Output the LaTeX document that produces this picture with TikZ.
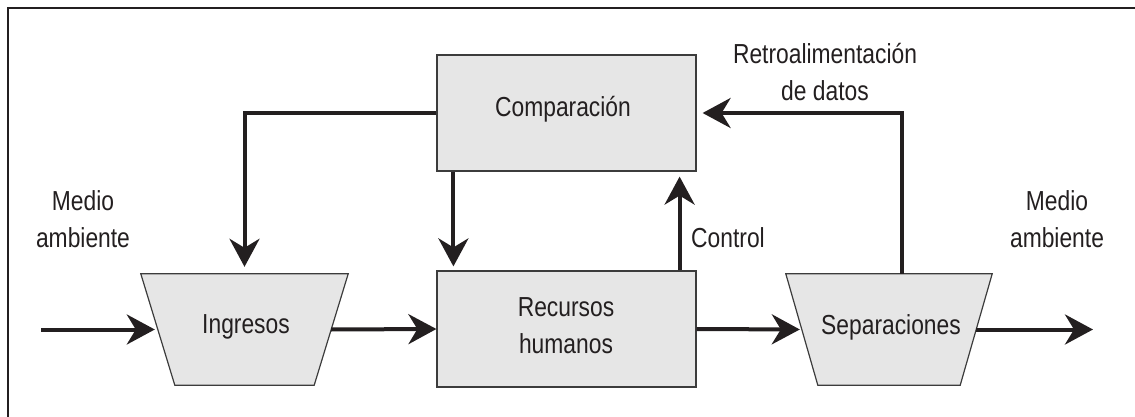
\documentclass[tikz,border=0pt]{standalone}
\usepackage{fontspec}
\setmainfont[FakeStretch=0.83]{Liberation Sans}
\usetikzlibrary{arrows.meta,calc}

\definecolor{ink}{HTML}{231F20}
\definecolor{boxfill}{HTML}{E6E6E6}
\definecolor{boxline}{HTML}{3C3C3C}

\tikzset{
  lbl/.style={text=ink, align=center, inner sep=0pt,
    font=\fontsize{27.5}{37}\selectfont},
  blk/.style={draw=boxline, fill=boxfill, line width=1.2pt,
    minimum width=259pt, minimum height=116pt, inner sep=0pt},
  trapbox/.style={minimum width=#1, minimum height=111pt, inner sep=0pt},
  trapshape/.style={draw=boxline, fill=boxfill, line width=1.2pt},
  flow/.style={draw=ink, line width=4pt,
    -{Stealth[length=28pt, width=30pt, inset=9pt]}},
  plain/.style={draw=ink, line width=4pt}
}

\begin{document}
\begin{tikzpicture}[x=1pt,y=-1pt]
\useasboundingbox (0,0) rectangle (1135,417);
\clip (0,0) rectangle (1135,417);

% outer frame
\draw[ink, line width=1.5pt] (8,425) -- (8,8) -- (1145,8);

% rectangular blocks
\node[blk] (comp) at (566.5,113) {};
\node[blk] (rec)  at (566.5,329) {};

% trapezoidal blocks: invisible frames, shapes drawn from their corners
\node[trapbox=207pt] (ing) at (244.5,329.5) {};
\node[trapbox=206pt] (sep) at (889,329.5) {};
\draw[trapshape] (ing.north west) -- (ing.north east)
  -- ($(ing.south east)+(-34,0)$) -- ($(ing.south west)+(34,0)$) -- cycle;
\draw[trapshape] (sep.north west) -- (sep.north east)
  -- ($(sep.south east)+(-32,0)$) -- ($(sep.south west)+(32,0)$) -- cycle;

% midpoints of the slanted sides
\coordinate (ingL) at ($(ing.west)+(17,0)$);
\coordinate (ingR) at ($(ing.east)+(-17,0)$);
\coordinate (sepL) at ($(sep.west)+(16,0)$);
\coordinate (sepR) at ($(sep.east)+(-16,0)$);
\coordinate (inflow) at (41,329.5);
\coordinate (outflow) at (1093,329.5);

% block texts
\node[lbl] (tcomp) at (563,109) {Comparación};
\node[lbl] (trec) at (566,326) {Recursos\\humanos};
\node[lbl] (ting) at (246,327) {Ingresos};
\node[lbl] (tsep) at (891,327) {Separaciones};

% free labels
\node[lbl] (mleft) at (83,219) {Medio\\ambiente};
\node[lbl] (mright) at (1057,219) {Medio\\ambiente};
\node[lbl] (retro) at (825,72) {Retroalimentación\\de datos};
\node[lbl, anchor=west] (ctrl) at (691,238) {Control};

% main flow
\draw[flow, shorten >=3pt] (inflow) -- (ingL);
\draw[flow] (ingR) -- (rec.west);
\draw[flow, shorten >=2pt] (rec.east) -- (sepL);
\draw[flow] (sepR) -- (outflow);

% comparison and control loops
\draw[flow, shorten >=7pt] (comp.west) -| (ing.north);
\draw[flow, shorten >=4pt] ($(comp.south west)+(17,0)$) -- ($(rec.north west)+(17,0)$);
\draw[flow, shorten >=5pt] ($(rec.north east)+(-17,0)$) -- ($(comp.south east)+(-17,0)$);
\draw[flow, shorten >=6pt] ($(sep.north)+(13,0)$) |- (comp.east);
\end{tikzpicture}
\end{document}
